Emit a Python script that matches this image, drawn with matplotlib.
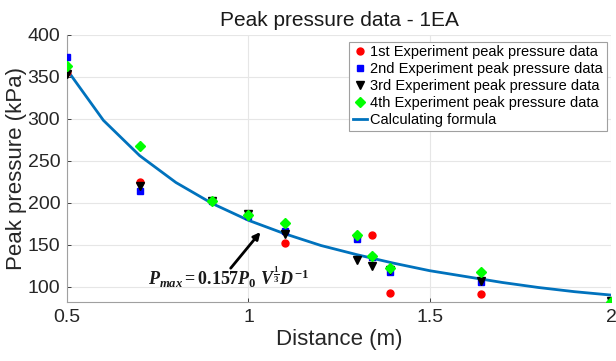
import matplotlib
matplotlib.use('Agg')
import matplotlib.pyplot as plt

plt.rcParams['font.family'] = ['Liberation Sans', 'DejaVu Sans']
plt.rcParams['mathtext.fontset'] = 'custom'
plt.rcParams['mathtext.it'] = 'Liberation Serif:italic:bold'
plt.rcParams['mathtext.rm'] = 'Liberation Serif:bold'
plt.rcParams['mathtext.bf'] = 'Liberation Serif:bold'

# experiment data (distance in m, peak pressure in kPa)
x1 = [0.5, 0.7, 0.9, 1.0, 1.1, 1.3, 1.34, 1.39, 1.64, 2.0]
p1 = [355, 225, 202, 185, 152, 160, 161, 92, 91, 82]
p2 = [373, 214, 202, 184, 166, 157, 135, 117, 105, 82]
p3 = [353, 220, 202, 187, 163, 132, 125, 120, 107, 83]
p4 = [363, 267, 202, 185, 176, 162, 137, 122, 117, 82]

# calculating formula curve
xf = [0.5, 0.6, 0.7, 0.8, 0.9, 1.0, 1.1, 1.2, 1.3, 1.4, 1.5, 1.6, 1.7, 1.8, 1.9, 2.0]
pf = [358, 298, 256, 224, 199, 179, 163, 149, 138, 128, 119, 112, 105, 99, 94, 90]

xticks = [0.5, 1, 1.5, 2]
xticklabels = ['0.5', '1', '1.5', '2']
yticks = [100, 150, 200, 250, 300, 350, 400]

fig = plt.figure(figsize=(6.16, 3.61), dpi=100)
ax = fig.add_axes([0.109, 0.164, 0.883, 0.740])

ax.plot(x1, p1, 'o', color='red', ms=5, label='1st Experiment peak pressure data', zorder=3)
ax.plot(x1, p2, 's', color='blue', ms=4, label='2nd Experiment peak pressure data', zorder=3)
ax.plot(x1, p3, 'v', color='black', ms=6, label='3rd Experiment peak pressure data', zorder=3)
ax.plot(x1, p4, 'D', color='#00ff00', ms=5, label='4th Experiment peak pressure data', zorder=3)
ax.plot(xf, pf, '-', color='#0072bd', lw=2, label='Calculating formula', zorder=2)

ax.text(0.946, 111, r'$P_{max}=0.157P_0\ V^{\frac{1}{3}}D^{-1}$',
        ha='center', va='center', fontsize=13, color='#1a1a1a')
ax.annotate('', xy=(1.033, 165), xytext=(0.951, 122),
            arrowprops=dict(arrowstyle='-|>', color='black', lw=2, shrinkA=0, shrinkB=0))

ax.set_xlim(0.5, 2)
ax.set_ylim(82, 400)
ax.set_xticks(xticks)
ax.set_xticklabels(xticklabels)
ax.set_yticks(yticks)
ax.tick_params(direction='in', length=3, labelsize=14, colors='#262626', width=0.6, pad=5)
for lab in ax.get_xticklabels() + ax.get_yticklabels():
    lab.set_color('#262626')
for s in ['top', 'right']:
    ax.spines[s].set_visible(False)
for s in ['left', 'bottom']:
    ax.spines[s].set_color('#a0a0a0')
ax.grid(True, color='#e6e6e6', lw=0.8)
ax.set_axisbelow(True)

ax.set_title('Peak pressure data - 1EA', fontsize=15, color='#1a1a1a', pad=6)
ax.set_xlabel('Distance (m)', fontsize=16, color='#262626', labelpad=2)
ax.set_ylabel('Peak pressure (kPa)', fontsize=16, color='#262626', labelpad=0)

leg = ax.legend(loc='upper right', bbox_to_anchor=(1.0, 0.99), fontsize=10.5, frameon=True,
                fancybox=False, edgecolor='#a0a0a0', framealpha=1,
                handlelength=1.0, handletextpad=0.2, borderpad=0.25, labelspacing=0.2,
                borderaxespad=0.3)
leg.get_frame().set_linewidth(0.8)

plt.savefig('out.png', dpi=100)
